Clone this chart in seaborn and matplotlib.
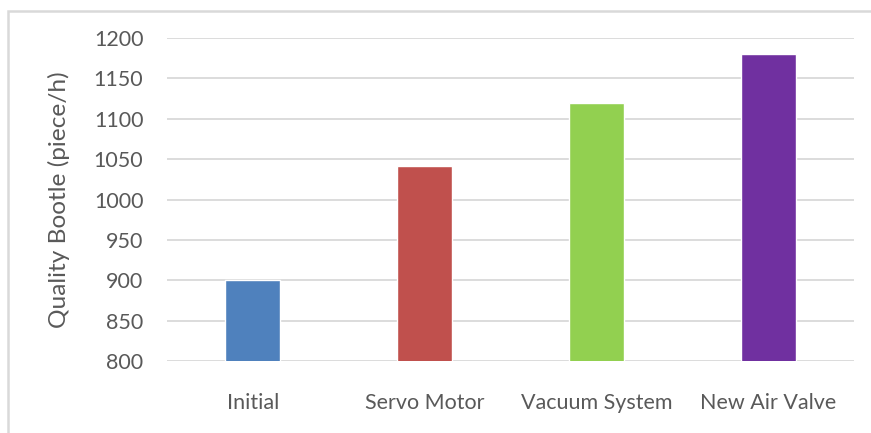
import matplotlib
matplotlib.use("Agg")
import matplotlib.pyplot as plt
from matplotlib.patches import Rectangle
import seaborn as sns
import pandas as pd

categories = ["Initial", "Servo Motor", "Vacuum System", "New Air Valve"]
values = [900, 1042, 1120, 1180]
colors = ["#4F81BD", "#C0504D", "#92D050", "#7030A0"]
y_ticks = [800, 850, 900, 950, 1000, 1050, 1100, 1150, 1200]
y_label = "Quality Bootle (piece/h)"

sns.set_theme(style="white")
plt.rcParams["font.family"] = ["Lato", "DejaVu Sans"]

W, H = 871, 433
fig = plt.figure(figsize=(W / 100, H / 100), dpi=100)

# light frame around the chart area
fig.patches.append(Rectangle((7.5 / W, -0.1), 1.2, 1 - 10.5 / H + 0.1,
                             transform=fig.transFigure, fill=False,
                             edgecolor="#D9D9D9", linewidth=1.8, zorder=0))

ax = fig.add_axes([167 / W, 1 - 361 / H, (854 - 167) / W, (361 - 38) / H])
df = pd.DataFrame({"step": categories, "value": values})
sns.barplot(data=df, x="step", y="value", hue="step", palette=colors,
            width=0.32, legend=False, ax=ax, saturation=1, zorder=3)

ax.set_ylim(800, 1200)
ax.set_yticks(y_ticks)
ax.set_xlim(-0.5, len(categories) - 0.5)
ax.grid(axis="y", color="#D9D9D9", linewidth=1.3, zorder=0)
ax.set_axisbelow(True)
for s in ax.spines.values():
    s.set_visible(False)

text_color = "#595959"
ax.tick_params(axis="y", length=0, pad=17, labelsize=15.5, labelcolor=text_color)
ax.tick_params(axis="x", length=0, pad=23, labelsize=15.5, labelcolor=text_color)
ax.set_xlabel("")
ax.set_ylabel(y_label, fontsize=17.6, color=text_color)
ax.yaxis.set_label_coords((70 - 167) / (854 - 167), 0.5)

fig.savefig("out.png", dpi=100)
